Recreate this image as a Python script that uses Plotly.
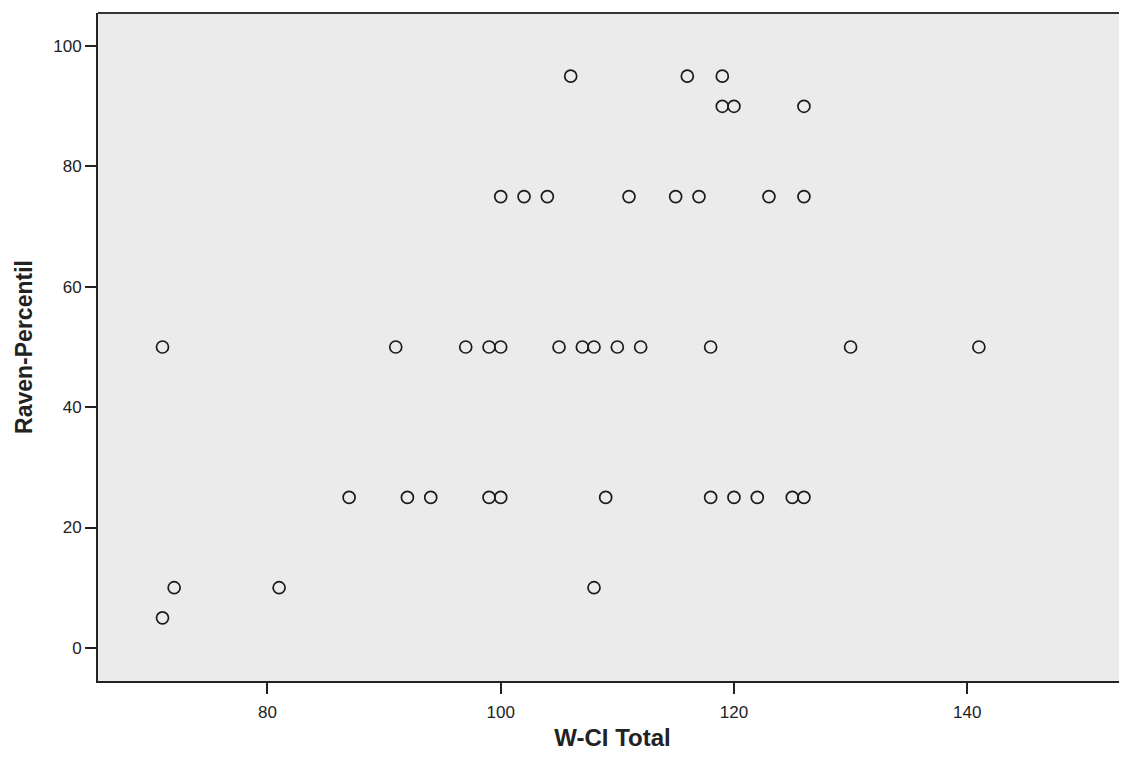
import plotly.graph_objects as go

# W-CI Total (x) and Raven-Percentil (y)
wci_total = [106, 116, 119,
             119, 120, 126,
             100, 102, 104, 111, 115, 117, 123, 126,
             71, 91, 97, 99, 100, 105, 107, 108, 110, 112, 118, 130, 141,
             87, 92, 94, 99, 100, 109, 118, 120, 122, 125, 126,
             72, 81, 108,
             71]
raven_percentil = [95, 95, 95,
                   90, 90, 90,
                   75, 75, 75, 75, 75, 75, 75, 75,
                   50, 50, 50, 50, 50, 50, 50, 50, 50, 50, 50, 50, 50,
                   25, 25, 25, 25, 25, 25, 25, 25, 25, 25, 25,
                   10, 10, 10,
                   5]

x_ticks = [80, 100, 120, 140]
y_ticks = [0, 20, 40, 60, 80, 100]

fig = go.Figure()
fig.add_trace(go.Scatter(
    x=wci_total, y=raven_percentil, mode="markers",
    marker=dict(symbol="circle-open", size=12, color="#1a1a1a",
                line=dict(width=1.7, color="#1a1a1a")),
    showlegend=False,
))

# top frame line of the plot area (the right side is cut off in the reference)
fig.add_shape(type="line", xref="paper", yref="paper", x0=0, x1=1, y0=1, y1=1,
              line=dict(color="#333333", width=2))

font_family = "Liberation Sans, Arial, sans-serif"
fig.update_layout(
    width=1119, height=743,
    margin=dict(l=90, r=0, t=5, b=70),
    paper_bgcolor="white",
    plot_bgcolor="#ebebeb",
    font=dict(family=font_family, color="#222222", size=17),
    xaxis=dict(
        range=[65.47, 153.7], automargin=False,
        tickvals=x_ticks, ticktext=[str(v) for v in x_ticks],
        showgrid=False, zeroline=False,
        showline=True, linecolor="#222222", linewidth=2,
        ticks="outside", ticklen=11, tickwidth=2, tickcolor="#222222",
        ticklabelstandoff=4,
        tickfont=dict(size=17, color="#222222"),
        title=dict(text="<b>W-CI Total</b>", font=dict(size=24, color="#222222"), standoff=16),
    ),
    yaxis=dict(
        range=[-5.5, 105.5], automargin=False,
        tickvals=y_ticks, ticktext=[str(v) for v in y_ticks],
        showgrid=False, zeroline=False,
        showline=True, linecolor="#222222", linewidth=2,
        ticks="outside", ticklen=11, tickwidth=2, tickcolor="#222222",
        tickfont=dict(size=17, color="#222222"),
        title=dict(text="<b>Raven-Percentil</b>", font=dict(size=23, color="#222222"), standoff=14),
    ),
)

fig.write_html("out.html")
